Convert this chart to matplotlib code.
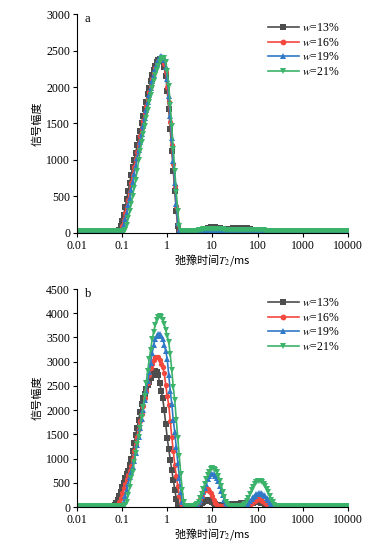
import numpy as np
import matplotlib
matplotlib.use('Agg')
import matplotlib.pyplot as plt

plt.rcParams['font.family'] = ['Liberation Serif', 'Noto Sans CJK SC']
plt.rcParams['mathtext.fontset'] = 'stix'

# T2 grid of the NMR inversion: 30 points per decade, 0.01 .. 10000 ms
t2 = np.logspace(-2, 4, 181)
BASE = 28

xticks = [0.01, 0.1, 1, 10, 100, 1000, 10000]
xtick_labels = ['0.01', '0.1', '1', '10', '100', '1000', '10000']
labels = ['13%', '16%', '19%', '21%']

# each series: (first grid index, amplitudes); rest is baseline
# --- panel a ---
a13 = [(28, [40, 90, 160, 250, 350, 460, 570, 680, 790, 900, 1000, 1100, 1200, 1300,
             1400, 1500, 1600, 1700, 1800, 1900, 1990, 2080, 2160, 2230, 2290, 2340,
             2370, 2385, 2380, 2350, 2280, 2150, 1950, 1700, 1420, 1130, 850, 570, 300, 90]),
       (82, [32, 36, 42, 50, 58, 66, 72, 76, 78, 79, 78, 75, 70, 64, 58, 53, 50, 48, 48,
             50, 54, 58, 62, 65, 68, 70, 71, 72, 72, 70, 67, 62, 56, 49, 42, 36, 32])]
a16 = [(29, [40, 100, 180, 270, 360, 450, 560, 680, 800, 910, 1010, 1110, 1220, 1330,
             1440, 1540, 1640, 1740, 1840, 1930, 2020, 2110, 2190, 2260, 2310, 2350,
             2380, 2390, 2370, 2320, 2210, 2000, 1800, 1520, 1200, 940, 650, 370, 120]),
       (84, [32, 35, 38, 40, 42, 42, 41, 40, 38, 36, 35, 34, 33, 32, 31])]
a19 = [(30, [45, 110, 190, 280, 380, 480, 590, 700, 810, 920, 1030, 1140, 1250, 1360,
             1470, 1580, 1690, 1790, 1890, 1990, 2080, 2170, 2250, 2320, 2370, 2405,
             2420, 2410, 2370, 2280, 2110, 1880, 1600, 1300, 990, 690, 400, 140]),
       (84, [32, 36, 40, 43, 45, 45, 44, 43, 41, 39, 38, 37, 36, 35, 34, 33, 32])]
a21 = [(32, [40, 110, 200, 300, 400, 510, 620, 730, 850, 1000, 1120, 1240, 1360, 1470,
             1580, 1690, 1790, 1890, 1990, 2080, 2160, 2230, 2290, 2340, 2380, 2400,
             2400, 2340, 2220, 2020, 1760, 1460, 1150, 850, 560, 300, 100]),
       (80, [32, 36, 40, 44, 48, 51, 54, 56, 57, 58, 58, 58, 57, 56, 54, 52, 50, 48, 46,
             45, 44, 43, 42, 42, 41, 41, 41, 41, 41, 41, 42, 42, 42, 42, 42, 42, 41, 41,
             40, 40, 39, 38, 37, 36, 35, 34, 33, 32, 31])]

# --- panel b ---
b13 = [(25, [35, 80, 150, 230, 320, 410, 500, 590, 680, 740, 860, 1000, 1160, 1320,
             1480, 1640, 1800, 1960, 2120, 2240, 2340, 2440, 2520, 2590, 2660, 2720,
             2770, 2800, 2790, 2720, 2560, 2400, 2240, 2000, 1720, 1420, 1200, 980, 760,
             560, 360, 170, 50]),
       (81, [35, 50, 75, 100, 120, 133, 138, 136, 125, 105, 80, 55, 38, 30, 32, 35, 38,
             41, 44, 47, 50, 53, 56, 59, 62, 65, 68, 71, 74, 77, 80, 82, 84, 86, 88, 90,
             92, 94, 95, 95, 94, 90, 84, 75, 64, 52, 42, 35])]
b16 = [(27, [40, 100, 190, 290, 390, 480, 580, 660, 740, 850, 990, 1150, 1300, 1450,
             1610, 1770, 1930, 2080, 2240, 2400, 2560, 2720, 2860, 2960, 3040, 3090,
             3105, 3090, 3040, 2960, 2880, 2760, 2520, 2290, 2110, 1780, 1450, 1150, 870,
             640, 430, 230, 90]),
       (79, [35, 60, 100, 160, 230, 300, 350, 370, 365, 335, 285, 220, 150, 90, 45]),
       (114, [35, 50, 75, 105, 130, 150, 160, 160, 150, 130, 105, 75, 50, 35])]
b19 = [(30, [40, 110, 220, 350, 480, 620, 730, 830, 960, 1120, 1280, 1440, 1630, 1820,
             2010, 2200, 2400, 2600, 2790, 2980, 3180, 3340, 3460, 3540, 3580, 3580,
             3540, 3460, 3350, 3220, 3050, 2730, 2400, 2130, 1800, 1540, 1230, 900, 600,
             320, 110]),
       (79, [35, 55, 95, 150, 220, 300, 390, 480, 570, 640, 680, 690, 680, 650, 600, 530,
             440, 340, 240, 150, 80, 40]),
       (112, [35, 55, 85, 120, 160, 200, 235, 260, 275, 280, 280, 270, 250, 220, 185,
              145, 105, 70, 45, 32])]
b21 = [(32, [35, 100, 250, 420, 600, 720, 920, 1120, 1300, 1440, 1640, 1850, 2060, 2300,
             2560, 2800, 3050, 3250, 3460, 3620, 3760, 3870, 3930, 3940, 3920, 3860,
             3780, 3660, 3540, 3400, 3150, 2830, 2480, 2200, 1800, 1420, 1050, 680, 350,
             110]),
       (79, [35, 60, 110, 180, 270, 370, 470, 570, 660, 730, 780, 800, 795, 770, 720, 640,
             540, 430, 310, 200, 110, 55]),
       (111, [40, 70, 120, 190, 270, 350, 420, 475, 515, 535, 540, 535, 515, 480, 430,
              370, 300, 225, 155, 95, 50])]

colors = ['#4d4d4d', '#f2483e', '#3079c6', '#3bb36a']
markers = ['s', 'o', '^', 'v']


def spectrum(segments):
    y = np.full(t2.size, float(BASE))
    for start, vals in segments:
        y[start:start + len(vals)] = vals
    return y


fig = plt.figure(figsize=(3.7, 5.45), dpi=100)
ax_a = fig.add_axes([0.208, 0.5725, 0.732, 0.4018])
ax_b = fig.add_axes([0.208, 0.0697, 0.732, 0.4])

panels = [(ax_a, [a13, a16, a19, a21], 3000, 'a'),
          (ax_b, [b13, b16, b19, b21], 4500, 'b')]

for ax, series, ymax, tag in panels:
    for s, lab, c, m in zip(series, labels, colors, markers):
        ax.plot(t2, spectrum(s), color=c, marker=m, markersize=3.8, markeredgewidth=0,
                linewidth=1.2, label='$w$=' + lab)
    ax.set_xscale('log')
    ax.set_xlim(0.01, 10000)
    ax.set_ylim(0, ymax)
    ax.set_xticks(xticks)
    ax.set_xticklabels(xtick_labels)
    ax.minorticks_off()
    ax.set_yticks(np.arange(0, ymax + 1, 500))
    ax.spines['top'].set_visible(False)
    ax.spines['right'].set_visible(False)
    for sp in ['left', 'bottom']:
        ax.spines[sp].set_linewidth(0.8)
    ax.tick_params(direction='out', length=3, width=0.8, labelsize=8.5, pad=2)
    ax.set_ylabel('信号幅度', fontsize=8, family=['Noto Sans CJK SC'])
    ax.yaxis.set_label_coords(-0.128, 0.5)
    ax.set_xlabel('弛豫时间$T_2$/ms', fontsize=8, family=['Noto Sans CJK SC', 'DejaVu Sans'])
    ax.xaxis.set_label_coords(0.5, -0.085)
    ax.text(0.04, 0.975, tag, transform=ax.transAxes, fontsize=9, va='center', ha='center')
    ax.legend(loc='upper left', bbox_to_anchor=(0.675, 1.0), frameon=False, fontsize=8.5,
              numpoints=1, handlelength=2.6, handletextpad=0.3, labelspacing=0.22,
              borderpad=0.2, markerscale=1.1)

fig.savefig('out.png', dpi=100)
